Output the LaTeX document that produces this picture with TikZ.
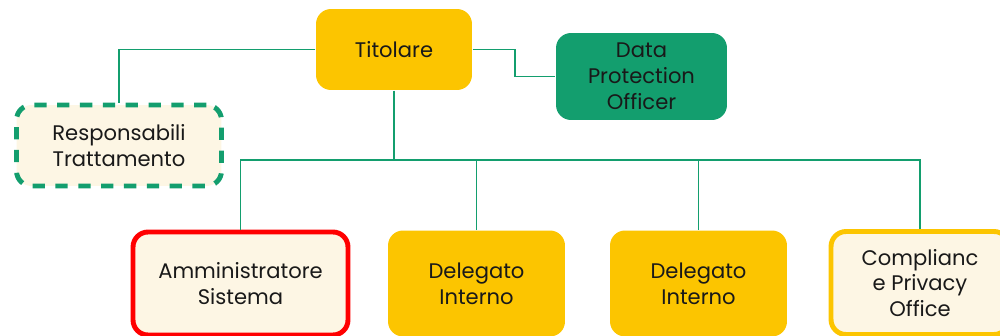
\documentclass[tikz,border=0pt]{standalone}
\usepackage{fontspec}
\setmainfont{Poppins}
\definecolor{gold}{HTML}{FCC500}
\definecolor{teal}{HTML}{139E6E}
\definecolor{cream}{HTML}{FDF6E4}
\definecolor{alert}{HTML}{FF0000}

\begin{document}
\begin{tikzpicture}[x=0.02cm, y=-0.02cm, thick,
  role/.style={rounded corners=0.3cm, align=center, font=\fontsize{12}{14.7}\selectfont,
    text=black!90, inner sep=0pt},
  link/.style={teal, line width=1.1pt}]
  \useasboundingbox (0,0) rectangle (1000,335);

  \node[role, fill=gold, minimum width=3.12cm, minimum height=1.62cm] (tit) at (394,49.5) {Titolare};
  \node[role, fill=teal, minimum width=3.42cm, minimum height=1.74cm] (dpo) at (641.5,76.5) {Data\\Protection\\Officer};
  \node[role, fill=cream, draw=teal, line width=2.8pt, dash pattern=on 7pt off 6pt,
    minimum width=4.1cm, minimum height=1.62cm] (resp) at (119,145.5) {Responsabili\\Trattamento};

  \node[role, fill=cream, draw=alert, line width=2.8pt, minimum width=4.3cm, minimum height=2.06cm] (adm) at (240.5,283.5) {Amministratore\\Sistema};
  \node[role, fill=gold, minimum width=3.54cm, minimum height=2.12cm] (del1) at (476.5,283.5) {Delegato\\Interno};
  \node[role, fill=gold, minimum width=3.54cm, minimum height=2.12cm] (del2) at (698.5,283.5) {Delegato\\Interno};
  \node[role, fill=cream, draw=gold, line width=2.8pt, minimum width=3.56cm, minimum height=2.06cm] (cpo) at (920,283) {Complianc\\e Privacy\\Office};

  \coordinate (bus) at (394,160);

  \draw[link] (tit.west) -| (resp.north);
  \draw[link] (tit.east) -- ++(42,0) |- (dpo.west);
  \draw[link] (tit.south) -- (bus);
  \foreach \n in {adm,del1,del2,cpo}
    \draw[link] (\n.north) |- (bus);
\end{tikzpicture}
\end{document}
